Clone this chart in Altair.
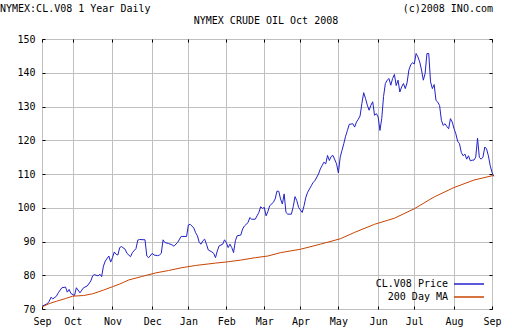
import altair as alt
import pandas as pd

# ---- data (x = trading-day index from early Sep 2007) ----
price_day = [0, 3, 4, 5, 6, 8, 9, 11, 13, 14, 15, 16, 18, 19, 21, 23, 25, 27, 28, 29,
             31, 32, 33, 34, 35, 37, 38, 39, 40, 41, 42, 43, 44, 46, 47, 49, 50, 52, 53, 54,
             57, 58, 59, 61, 62, 64, 65, 66, 67, 68, 70, 72, 73, 75, 77, 80, 81, 82, 84, 85,
             86, 87, 88, 89, 90, 91, 92, 94, 95, 96, 97, 98, 100, 101, 102, 103, 104, 105, 106, 107,
             108, 110, 111, 112, 114, 115, 116, 118, 119, 120, 121, 122, 123, 124, 125, 126, 128, 129, 130, 131,
             132, 133, 134, 135, 136, 138, 139, 140, 141, 142, 144, 145, 146, 147, 149, 150, 151, 153, 154, 155,
             156, 157, 158, 159, 160, 161, 163, 164, 165, 166, 167, 168, 169, 170, 172, 173, 174, 175, 176, 177,
             178, 179, 180, 181, 182, 183, 184, 185, 186, 187, 188, 189, 190, 191, 192, 193, 194, 195, 196, 197,
             198, 199, 200, 201, 202, 203, 204, 205, 206, 207, 208, 209, 210, 211, 212, 213, 214, 215, 216, 217,
             218, 219, 220, 221, 222, 223, 224, 225, 226, 227, 228, 229, 230, 231, 232, 233, 234, 235, 236, 237,
             238, 239, 240, 241, 242, 243, 244, 245, 246, 247, 248, 249, 250]
price_val = [70.8, 71.6, 72.3, 73.5, 73.0, 73.8, 74.8, 76.3, 76.5, 75.0, 75.8, 74.6, 74.0, 76.3, 74.8, 76.3, 76.8, 78.3, 79.8, 80.2,
             79.8, 80.3, 79.6, 82.7, 84.2, 85.7, 83.9, 85.2, 86.9, 86.2, 86.0, 88.2, 88.5, 87.7, 86.5, 85.5, 86.7, 87.9, 90.4, 90.6,
             90.5, 85.7, 85.2, 86.5, 86.0, 85.8, 86.0, 86.5, 90.5, 89.7, 89.4, 89.0, 88.6, 89.7, 91.5, 91.5, 94.9, 95.1, 94.0, 92.6,
             91.7, 89.7, 89.2, 90.2, 90.7, 89.2, 87.5, 86.9, 86.5, 85.2, 87.2, 88.7, 89.2, 90.5, 89.7, 88.2, 89.2, 88.2, 86.7, 90.2,
             91.7, 91.9, 93.7, 94.6, 95.6, 97.1, 96.6, 96.6, 97.6, 98.6, 100.3, 99.8, 100.1, 97.6, 98.9, 100.6, 101.6, 102.6, 104.9, 104.9,
             102.6, 101.1, 104.1, 98.6, 98.1, 98.1, 100.3, 103.3, 102.1, 100.1, 98.6, 100.6, 103.1, 104.6, 106.5, 107.5, 108.0, 110.0, 111.5, 112.5,
             113.5, 113.0, 115.5, 114.0, 115.2, 115.5, 113.0, 110.3, 115.0, 117.0, 119.0, 121.2, 122.9, 124.7, 124.9, 123.9, 125.4, 126.2, 127.2, 130.9,
             134.1, 132.4, 130.4, 128.9, 130.4, 131.4, 127.4, 127.9, 126.9, 122.9, 126.5, 133.0, 136.8, 137.8, 138.3, 136.3, 138.3, 139.5, 136.2, 137.8,
             134.3, 135.8, 136.8, 135.3, 137.0, 140.8, 142.3, 143.0, 142.6, 145.7, 144.7, 143.2, 140.8, 137.8, 139.8, 145.7, 145.7, 137.3, 135.3, 136.5,
             131.8, 131.3, 130.3, 125.9, 124.4, 124.9, 124.1, 123.4, 126.4, 125.4, 123.4, 121.9, 119.7, 119.0, 116.4, 115.4, 115.9, 114.4, 115.4, 113.9,
             114.1, 114.1, 115.0, 120.6, 114.9, 114.4, 115.0, 118.0, 117.4, 115.4, 112.5, 110.5, 109.3]

ma_day = [0, 4, 8, 13, 17, 23, 28, 34, 39, 43, 48, 55, 63, 70, 77, 85, 96, 103, 110, 118,
          125, 132, 143, 154, 165, 173, 184, 195, 206, 217, 228, 239, 250]
ma_val = [70.6, 71.6, 72.3, 73.1, 73.8, 74.0, 74.5, 75.6, 76.6, 77.4, 78.6, 79.6, 80.7, 81.4, 82.2, 82.9, 83.6, 84.0, 84.5, 85.2,
          85.7, 86.7, 87.7, 89.2, 90.8, 92.7, 95.1, 96.9, 99.7, 103.2, 106.0, 108.2, 109.6]

month_day = [0, 17, 39, 61, 81, 102, 123, 143, 164, 186, 206, 228, 249]
month_lbl = ["Sep", "Oct", "Nov", "Dec", "Jan", "Feb", "Mar", "Apr", "May", "Jun", "Jul", "Aug", "Sep"]
y_ticks = [70, 80, 90, 100, 110, 120, 130, 140, 150]

series_names = ["CL.V08 Price", "200 Day MA"]
series_colors = ["#2222cc", "#c84400"]

header_left = ["NYMEX:CL.V08 1 Year Daily"]
header_center = ["NYMEX CRUDE OIL Oct 2008"]
header_right = ["(c)2008 INO.com"]

FONT = "DejaVu Sans Mono"
GRID = "#c0c0c0"

price_df = pd.DataFrame({"day": price_day, "value": price_val, "series": series_names[0]})
ma_df = pd.DataFrame({"day": ma_day, "value": ma_val, "series": series_names[1]})

label_expr = ("[" + ",".join(f"'{m}'" for m in month_lbl) + "][indexof(["
              + ",".join(str(d) for d in month_day) + "], datum.value)]")

xscale = alt.Scale(domain=[0, 249], nice=False, zero=False)
yscale = alt.Scale(domain=[70, 150], nice=False, zero=False)

tick_common = dict(offset=-3, tickSize=3, tickColor="#000000", tickWidth=1, domain=False, title=None)

x_bottom = alt.Axis(orient="bottom", values=month_day, labelExpr=label_expr, grid=True, gridColor=GRID,
                    labelFont=FONT, labelFontSize=10, labelColor="#000000", labelPadding=7,
                    labelAngle=0, labelOverlap=False, labelFlush=False, **tick_common)
y_left = alt.Axis(orient="left", values=y_ticks, grid=True, gridColor=GRID, labelFont=FONT,
                  labelFontSize=10, labelColor="#000000", labelPadding=7, labelFlush=False,
                  labelOverlap=False, **tick_common)
x_top = alt.Axis(orient="top", values=month_day, labels=False, grid=False, **tick_common)
y_right = alt.Axis(orient="right", values=y_ticks, labels=False, grid=False, **tick_common)

legend = alt.Legend(orient="none", legendX=421, legendY=239, title=None,
                    symbolType="M-3,0H3", symbolSize=100, symbolStrokeWidth=1.5,
                    labelAlign="right", labelOffset={"expr": "-27"}, rowPadding=2,
                    labelFont=FONT, labelFontSize=10, labelColor="#000000", padding=0)

color = alt.Color("series:N", scale=alt.Scale(domain=series_names, range=series_colors), legend=legend)

price_layer = alt.Chart(price_df).mark_line(strokeWidth=1, clip=False).encode(
    x=alt.X("day:Q", scale=xscale, axis=x_bottom),
    y=alt.Y("value:Q", scale=yscale, axis=y_left),
    color=color,
)
ma_layer = alt.Chart(ma_df).mark_line(strokeWidth=1, clip=False).encode(
    x=alt.X("day:Q", scale=xscale, axis=x_top),
    y=alt.Y("value:Q", scale=yscale, axis=y_right),
    color=color,
)

def header(texts, align, xv, yv):
    return alt.Chart(pd.DataFrame({"t": texts})).mark_text(
        font=FONT, fontSize=10, align=align, baseline="alphabetic", color="#000000"
    ).encode(text="t:N", x=alt.value(xv), y=alt.value(yv))

chart = alt.layer(
    price_layer,
    ma_layer,
    header(header_left, "left", -42, -27),
    header(header_center, "center", 224, -15),
    header(header_right, "right", 451, -27),
).resolve_axis(x="independent", y="independent").properties(
    width=450, height=270,
    autosize=alt.AutoSizeParams(type="none"),
    padding={"left": 42, "top": 39, "right": 20, "bottom": 27},
    background="#ffffff",
).configure_view(stroke=GRID, strokeWidth=1)

chart.save("out.html", embed_options={"renderer": "svg", "actions": False})
